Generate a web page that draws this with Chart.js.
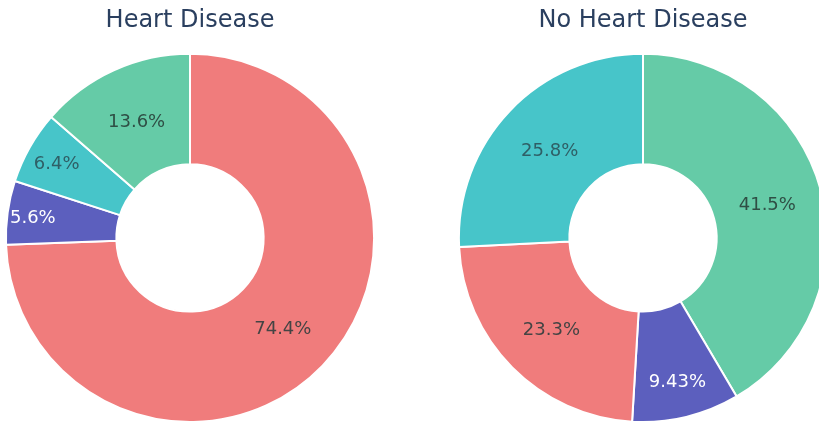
<!DOCTYPE html>
<html>
<head>
<meta charset="utf-8">
<script src="https://cdn.jsdelivr.net/npm/chart.js@4.4.1/dist/chart.umd.min.js"></script>
<style>
    html, body { margin: 0; padding: 0; background: #fff; overflow: hidden; width: 819px; height: 424px; }
    canvas { position: absolute; top: 0; }
    #chartHeart { left: 0; }
    #chartNoHeart { left: 453px; }
</style>
</head>
<body>
<canvas id="chartHeart" width="380" height="424"></canvas>
<canvas id="chartNoHeart" width="380" height="424"></canvas>
<script>
// Data: jumlah pasien per tipe nyeri dada
const categories = ['Typical Angina', 'Atypical Angina', 'Non-anginal Pain', 'Asymptomatic'];
const heartDisease = [93, 8, 17, 7];
const noHeartDisease = [37, 41, 66, 15];
const chartTitles = ['Heart Disease', 'No Heart Disease'];

const categoryColors = {
    'Typical Angina': '#F07C7C',
    'Atypical Angina': '#47C5C9',
    'Non-anginal Pain': '#65CBA7',
    'Asymptomatic': '#5C5FBE'
};
const textColors = {
    'Typical Angina': '#444',
    'Atypical Angina': '#2f5f66',
    'Non-anginal Pain': '#2f4f45',
    'Asymptomatic': '#ffffff'
};

document.addEventListener('DOMContentLoaded', function () {
    // Urutan seperti plotly: irisan terbesar dulu, sisanya naik
    function sliceOrder(values) {
        const idx = values.map((v, i) => i);
        idx.sort((a, b) => values[a] - values[b]);
        const largest = idx.pop();
        return [largest].concat(idx);
    }

    // Plugin untuk menulis persentase di dalam irisan
    const sliceLabels = {
        id: 'sliceLabels',
        afterDatasetsDraw(chart, args, opts) {
            const ctx = chart.ctx;
            const meta = chart.getDatasetMeta(0);
            const data = chart.data.datasets[0].data;
            const labels = chart.data.labels;
            const total = data.reduce((a, b) => a + b, 0);
            ctx.save();
            ctx.font = '18px "DejaVu Sans"';
            ctx.textAlign = 'center';
            ctx.textBaseline = 'alphabetic';
            meta.data.forEach((arc, i) => {
                const p = arc.getProps(['x', 'y', 'startAngle', 'endAngle', 'innerRadius', 'outerRadius'], true);
                const mid = (p.startAngle + p.endAngle) / 2;
                const frac = opts.radius[labels[i]] ?? 0.5;
                const r = p.innerRadius + frac * (p.outerRadius - p.innerRadius);
                const pct = parseFloat((data[i] / total * 100).toPrecision(3)) + '%';
                ctx.fillStyle = textColors[labels[i]];
                // baseline digeser supaya angka berada di tengah
                ctx.fillText(pct, p.x + Math.cos(mid) * r, p.y + Math.sin(mid) * r + 6.5);
            });
            ctx.restore();
        }
    };

    function renderDonut(canvasId, title, values, labelRadius) {
        const order = sliceOrder(values);
        const labels = order.map(i => categories[i]);
        new Chart(document.getElementById(canvasId), {
            type: 'doughnut',
            data: {
                labels: labels,
                datasets: [{
                    data: order.map(i => values[i]),
                    backgroundColor: labels.map(l => categoryColors[l]),
                    borderColor: '#ffffff',
                    borderWidth: 2
                }]
            },
            options: {
                responsive: false,
                animation: false,
                cutout: '40%',
                layout: { padding: { bottom: 1 } },
                plugins: {
                    legend: { display: false },
                    title: {
                        display: true,
                        text: title,
                        color: '#2a3f5f',
                        font: { family: 'DejaVu Sans', size: 24, weight: 'normal' },
                        padding: { top: 6, bottom: 18 }
                    },
                    sliceLabels: { radius: labelRadius }
                }
            },
            plugins: [sliceLabels]
        });
    }

    renderDonut('chartHeart', chartTitles[0], heartDisease, { 'Asymptomatic': 0.77, 'Atypical Angina': 0.72 });
    renderDonut('chartNoHeart', chartTitles[1], noHeartDisease, { 'Asymptomatic': 0.66 });
});
</script>
</body>
</html>
